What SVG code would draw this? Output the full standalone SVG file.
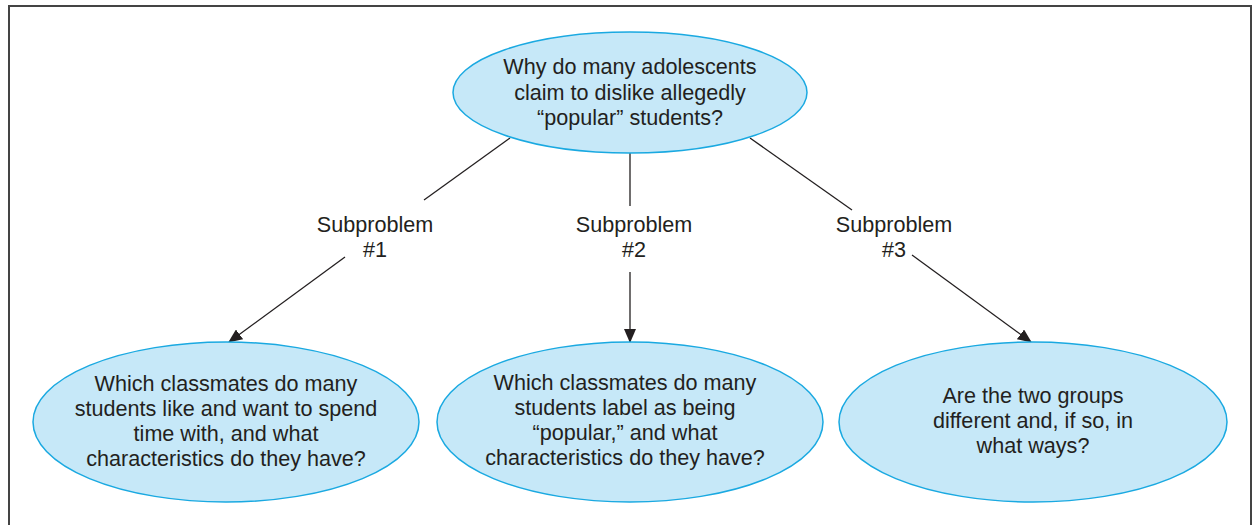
<svg xmlns="http://www.w3.org/2000/svg" width="1254" height="525" viewBox="0 0 1254 525">
  <defs>
    <marker id="arrow" markerWidth="14" markerHeight="12" refX="13" refY="6" orient="auto" markerUnits="userSpaceOnUse">
      <path d="M0,0 L14,6 L0,12 Z" fill="#231f20"/>
    </marker>
    <style>
      .node { fill: #c6e8f8; stroke: #1aa9e1; stroke-width: 1.5; }
      .txt { font-family: "Liberation Sans", Arial, sans-serif; font-size: 21.6px; fill: #231f20; text-anchor: middle; }
      .edge { stroke: #231f20; stroke-width: 1.3; fill: none; }
      .frame { stroke: #444444; stroke-width: 2; fill: none; }
    </style>
  </defs>

  <rect width="1254" height="525" fill="#ffffff"/>
  <path class="frame" d="M9,525 V6 H1251 V525"/>

  <g id="connectors">
    <line class="edge" x1="510" y1="138" x2="424" y2="200"/>
    <line class="edge" x1="345" y1="257" x2="229" y2="342" marker-end="url(#arrow)"/>
    <line class="edge" x1="630" y1="153" x2="630" y2="206"/>
    <line class="edge" x1="630" y1="272" x2="630" y2="342" marker-end="url(#arrow)"/>
    <line class="edge" x1="750" y1="138" x2="852" y2="210"/>
    <line class="edge" x1="912" y1="255" x2="1031" y2="342" marker-end="url(#arrow)"/>
  </g>

  <g id="label-1">
    <text class="txt" x="375" y="232">Subproblem</text>
    <text class="txt" x="375" y="257">#1</text>
  </g>
  <g id="label-2">
    <text class="txt" x="634" y="232">Subproblem</text>
    <text class="txt" x="634" y="257">#2</text>
  </g>
  <g id="label-3">
    <text class="txt" x="894" y="232">Subproblem</text>
    <text class="txt" x="894" y="257">#3</text>
  </g>

  <g id="root">
    <ellipse class="node" cx="630" cy="92.5" rx="177" ry="60.5"/>
    <text class="txt" x="630" y="74">Why do many adolescents</text>
    <text class="txt" x="630" y="100">claim to dislike allegedly</text>
    <text class="txt" x="630" y="125">“popular” students?</text>
  </g>

  <g id="sub-1">
    <ellipse class="node" cx="226" cy="422" rx="193" ry="80"/>
    <text class="txt" x="226" y="391">Which classmates do many</text>
    <text class="txt" x="226" y="416">students like and want to spend</text>
    <text class="txt" x="226" y="441">time with, and what</text>
    <text class="txt" x="226" y="466">characteristics do they have?</text>
  </g>

  <g id="sub-2">
    <ellipse class="node" cx="630" cy="422" rx="193" ry="80"/>
    <text class="txt" x="625" y="390">Which classmates do many</text>
    <text class="txt" x="625" y="415">students label as being</text>
    <text class="txt" x="625" y="440">“popular,” and what</text>
    <text class="txt" x="625" y="465">characteristics do they have?</text>
  </g>

  <g id="sub-3">
    <ellipse class="node" cx="1033" cy="422" rx="194" ry="80"/>
    <text class="txt" x="1033" y="403">Are the two groups</text>
    <text class="txt" x="1033" y="428">different and, if so, in</text>
    <text class="txt" x="1033" y="453">what ways?</text>
  </g>
</svg>
